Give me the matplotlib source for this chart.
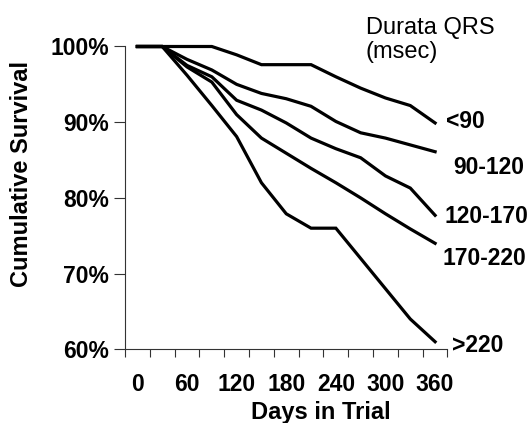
#!/usr/bin/env python3
"""Cumulative survival by QRS duration (Kaplan-Meier style step-free lines)."""
import matplotlib

matplotlib.use("Agg")

import matplotlib.pyplot as plt
import numpy as np

W, H = 531, 423

# days in trial, one point every 30 days
days = [0, 30, 60, 90, 120, 150, 180, 210, 240, 270, 300, 330, 360]
day_labels = [0, 60, 120, 180, 240, 300, 360]

# survival (%)
surv_lt90 = [100, 100, 100, 100, 98.9, 97.6, 97.6, 97.6, 96.0, 94.5, 93.2, 92.2, 89.9]
surv_90_120 = [100, 100, 98.3, 96.9, 95.0, 93.8, 93.1, 92.1, 90.1, 88.6, 87.9, 87.0, 86.1]
surv_120_170 = [100, 100, 97.5, 96.0, 92.9, 91.6, 89.9, 87.9, 86.5, 85.3, 82.9, 81.3, 77.7]
surv_170_220 = [100, 100, 97.3, 95.3, 91.0, 87.9, 85.9, 83.9, 82.0, 80.0, 77.9, 75.9, 74.0]
surv_gt220 = [100, 100, 96.2, 92.2, 88.1, 82.0, 77.9, 76.0, 76.0, 72.0, 68.0, 64.0, 61.0]

series = [surv_lt90, surv_90_120, surv_120_170, surv_170_220, surv_gt220]
series_labels = ["<90", "90-120", "120-170", "170-220", ">220"]
# label anchor (left x, baseline y) in pixels from top-left
label_pos = [(446, 128), (453, 174), (444, 223), (443, 265), (452, 352)]

y_ticks = [60, 70, 80, 90, 100]

plt.rcParams["font.family"] = ["Liberation Sans", "DejaVu Sans"]


def fx(x):
    return x / W


def fy(y):
    return 1 - y / H


fig = plt.figure(figsize=(W / 100, H / 100), dpi=100)
left, right, top, bottom = 125, 447.5, 46.5, 349.3
ax = fig.add_axes([fx(left), fy(bottom), (right - left) / W, (bottom - top) / H])

for vals in series:
    ax.plot(days, vals, color="black", linewidth=2.3, clip_on=False,
            solid_joinstyle="miter")

ax.set_xlim(-15, 375)
ax.set_ylim(60, 100)

ax.set_xticks(day_labels)
ax.set_xticklabels([str(d) for d in day_labels], fontsize=16.5, fontweight="bold")
ax.set_xticks(np.arange(-15, 376, 30), minor=True)
ax.tick_params(axis="x", which="major", length=0, pad=17)
ax.tick_params(axis="x", which="minor", length=5.5, width=0.8, direction="out",
               color="#333333")

ax.set_yticks(y_ticks)
ax.set_yticklabels([f"{v}%" for v in y_ticks], fontsize=16.5, fontweight="bold")
ax.tick_params(axis="y", length=8, width=0.8, pad=3.5, color="#333333")
for lbl in ax.get_yticklabels():
    lbl.set_verticalalignment("center_baseline")

for side in ("top", "right"):
    ax.spines[side].set_visible(False)
for side in ("left", "bottom"):
    ax.spines[side].set_linewidth(0.8)
    ax.spines[side].set_color("#333333")

for lab, (lx, ly) in zip(series_labels, label_pos):
    fig.text(fx(lx), fy(ly), lab, fontsize=16.5, fontweight="bold",
             ha="left", va="baseline")

fig.text(fx(365.5), fy(34), "Durata QRS", fontsize=17, ha="left", va="baseline")
fig.text(fx(365.5), fy(58), "(msec)", fontsize=17, ha="left", va="baseline")

fig.text(fx(22), fy(174), "Cumulative Survival", fontsize=17, fontweight="bold",
         rotation=90, ha="center", va="center")
fig.text(fx(321), fy(419), "Days in Trial", fontsize=17, fontweight="bold",
         ha="center", va="baseline")

fig.savefig("out.png", dpi=100)
